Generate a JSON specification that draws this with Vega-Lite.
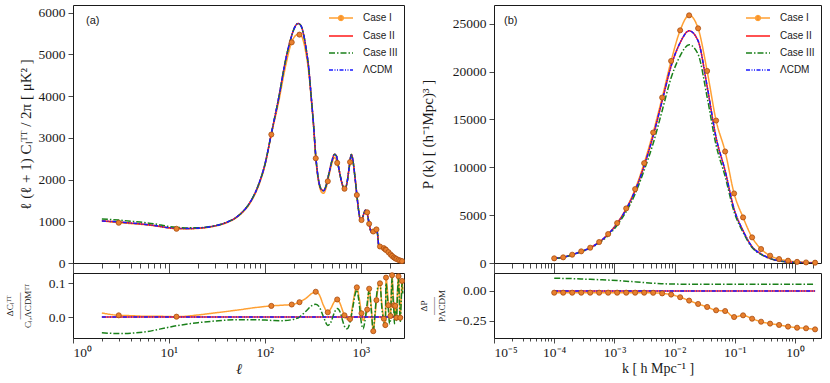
{
  "$schema": "https://vega.github.io/schema/vega-lite/v6.json",
  "autosize": {"type": "pad"},
  "padding": {"left": 4, "top": 4, "right": 0, "bottom": 0},
  "background": "white",
  "spacing": 12,
  "config": {
    "view": {"stroke": "#1a1a1a", "strokeWidth": 1},
    "axis": {"grid": false, "domain": false, "tickColor": "#1a1a1a", "tickWidth": 0.8, "labelFont": "Liberation Serif", "labelFontSize": 13.5, "labelColor": "#1a1a1a", "titleFont": "Liberation Serif", "titleFontWeight": "normal", "titleFontSize": 13, "titleColor": "#1a1a1a"},
    "line": {"strokeWidth": 1.5, "interpolate": "monotone"}
  },
  "datasets": {
    "tt": [
      {"l":2,"I":1010,"II":1010,"III":1055,"L":1010},
      {"l":3,"I":965,"II":982,"III":1028,"L":982},
      {"l":4,"I":945,"II":958,"III":1003,"L":958},
      {"l":5,"I":928,"II":938,"III":982,"L":938},
      {"l":7,"I":893,"II":900,"III":940,"L":900},
      {"l":10,"I":840,"II":845,"III":875,"L":845},
      {"l":12,"I":820,"II":830,"III":855,"L":830},
      {"l":15,"I":818,"II":825,"III":842,"L":825},
      {"l":20,"I":828,"II":835,"III":843,"L":835},
      {"l":25,"I":850,"II":858,"III":862,"L":858},
      {"l":30,"I":882,"II":890,"III":893,"L":890},
      {"l":40,"I":965,"II":975,"III":977,"L":975},
      {"l":50,"I":1078,"II":1090,"III":1090,"L":1090},
      {"l":60,"I":1235,"II":1250,"III":1250,"L":1250},
      {"l":70,"I":1430,"II":1450,"III":1450,"L":1450},
      {"l":80,"I":1675,"II":1700,"III":1700,"L":1700},
      {"l":90,"I":1970,"II":2000,"III":2000,"L":2000},
      {"l":100,"I":2320,"II":2350,"III":2350,"L":2350},
      {"l":117,"I":3080,"II":3100,"III":3100,"L":3100},
      {"l":140,"I":3880,"II":3970,"III":3970,"L":3970},
      {"l":164,"I":4700,"II":4840,"III":4840,"L":4840},
      {"l":189,"I":5270,"II":5420,"III":5420,"L":5420},
      {"l":205,"I":5430,"II":5650,"III":5650,"L":5650},
      {"l":222,"I":5480,"II":5740,"III":5740,"L":5740},
      {"l":238,"I":5460,"II":5690,"III":5690,"L":5690},
      {"l":254,"I":5300,"II":5480,"III":5480,"L":5480},
      {"l":270,"I":5000,"II":5130,"III":5130,"L":5130},
      {"l":287,"I":4580,"II":4680,"III":4680,"L":4680},
      {"l":305,"I":3930,"II":3980,"III":3980,"L":3980},
      {"l":324,"I":3220,"II":3250,"III":3250,"L":3250},
      {"l":338,"I":2580,"II":2640,"III":2640,"L":2640},
      {"l":352,"I":2170,"II":2220,"III":2220,"L":2220},
      {"l":370,"I":1860,"II":1900,"III":1900,"L":1900},
      {"l":390,"I":1700,"II":1760,"III":1760,"L":1760},
      {"l":410,"I":1670,"II":1735,"III":1735,"L":1735},
      {"l":435,"I":1790,"II":1850,"III":1850,"L":1850},
      {"l":465,"I":2080,"II":2130,"III":2130,"L":2130},
      {"l":500,"I":2380,"II":2440,"III":2440,"L":2440},
      {"l":535,"I":2530,"II":2610,"III":2610,"L":2610},
      {"l":560,"I":2460,"II":2560,"III":2560,"L":2560},
      {"l":585,"I":2310,"II":2330,"III":2330,"L":2330},
      {"l":620,"I":2030,"II":2030,"III":2030,"L":2030},
      {"l":650,"I":1850,"II":1850,"III":1850,"L":1850},
      {"l":683,"I":1775,"II":1775,"III":1775,"L":1775},
      {"l":720,"I":1920,"II":1920,"III":1920,"L":1920},
      {"l":760,"I":2300,"II":2300,"III":2300,"L":2300},
      {"l":800,"I":2600,"II":2600,"III":2600,"L":2600},
      {"l":830,"I":2460,"II":2460,"III":2460,"L":2460},
      {"l":860,"I":2180,"II":2180,"III":2180,"L":2180},
      {"l":890,"I":1870,"II":1870,"III":1870,"L":1870},
      {"l":920,"I":1550,"II":1550,"III":1550,"L":1550},
      {"l":960,"I":1200,"II":1200,"III":1200,"L":1200},
      {"l":1000,"I":1010,"II":1010,"III":1010,"L":1010},
      {"l":1040,"I":1060,"II":1060,"III":1060,"L":1060},
      {"l":1080,"I":1190,"II":1190,"III":1190,"L":1190},
      {"l":1120,"I":1265,"II":1265,"III":1265,"L":1265},
      {"l":1160,"I":1230,"II":1230,"III":1230,"L":1230},
      {"l":1200,"I":1060,"II":1060,"III":1060,"L":1060},
      {"l":1240,"I":880,"II":880,"III":880,"L":880},
      {"l":1265,"I":790,"II":790,"III":790,"L":790},
      {"l":1300,"I":740,"II":740,"III":740,"L":740},
      {"l":1340,"I":748,"II":748,"III":748,"L":748},
      {"l":1380,"I":790,"II":790,"III":790,"L":790},
      {"l":1425,"I":812,"II":812,"III":812,"L":812},
      {"l":1470,"I":800,"II":800,"III":800,"L":800},
      {"l":1500,"I":690,"II":690,"III":690,"L":690},
      {"l":1540,"I":440,"II":440,"III":440,"L":440},
      {"l":1600,"I":390,"II":390,"III":390,"L":390},
      {"l":1650,"I":372,"II":372,"III":372,"L":372},
      {"l":1700,"I":368,"II":368,"III":368,"L":368},
      {"l":1745,"I":355,"II":355,"III":355,"L":355},
      {"l":1800,"I":330,"II":330,"III":330,"L":330},
      {"l":1875,"I":295,"II":295,"III":295,"L":295},
      {"l":1950,"I":258,"II":258,"III":258,"L":258},
      {"l":2040,"I":210,"II":210,"III":210,"L":210},
      {"l":2120,"I":172,"II":172,"III":172,"L":172},
      {"l":2200,"I":140,"II":140,"III":140,"L":140},
      {"l":2300,"I":110,"II":110,"III":110,"L":110},
      {"l":2400,"I":87,"II":87,"III":87,"L":87},
      {"l":2485,"I":72,"II":72,"III":72,"L":72},
      {"l":2600,"I":56,"II":56,"III":56,"L":56},
      {"l":2750,"I":40,"II":40,"III":40,"L":40}
    ],
    "ttm": [
      {"l":3,"v":965,"r":0.005},
      {"l":12,"v":820,"r":0.001},
      {"l":117,"v":3080,"r":0.033},
      {"l":191,"v":5290,"r":0.037},
      {"l":230,"v":5475,"r":0.044},
      {"l":340,"v":2510,"r":0.075},
      {"l":454,"v":1960,"r":0.014},
      {"l":569,"v":2400,"r":0.052},
      {"l":678,"v":1780,"r":0.005},
      {"l":775,"v":2420,"r":-0.006},
      {"l":912,"v":1630,"r":0.088},
      {"l":1020,"v":1030,"r":0.011},
      {"l":1169,"v":1215,"r":0.022},
      {"l":1226,"v":940,"r":0.084},
      {"l":1353,"v":755,"r":-0.042},
      {"l":1460,"v":805,"r":0.05},
      {"l":1590,"v":395,"r":0.1},
      {"l":1743,"v":356,"r":-0.005},
      {"l":1807,"v":327,"r":-0.024},
      {"l":1838,"v":313,"r":0.117},
      {"l":1947,"v":260,"r":0.035},
      {"l":2045,"v":208,"r":0.003},
      {"l":2125,"v":170,"r":0.124},
      {"l":2218,"v":134,"r":0.035},
      {"l":2290,"v":113,"r":0.033},
      {"l":2360,"v":97,"r":-0.002},
      {"l":2480,"v":74,"r":0.121},
      {"l":2585,"v":58,"r":-0.002},
      {"l":2700,"v":45,"r":0.107}
    ],
    "ttr": [
      {"l":2,"I":0.012,"II":0,"III":-0.047,"L":0},
      {"l":3,"I":0.005,"II":0,"III":-0.049,"L":0},
      {"l":4,"I":0.004,"II":0,"III":-0.048,"L":0},
      {"l":6,"I":0.002,"II":0,"III":-0.043,"L":0},
      {"l":8,"I":0.002,"II":0,"III":-0.036,"L":0},
      {"l":12,"I":0.001,"II":0,"III":-0.026,"L":0},
      {"l":20,"I":0.006,"II":0,"III":-0.017,"L":0},
      {"l":30,"I":0.012,"II":0,"III":-0.012,"L":0},
      {"l":50,"I":0.020,"II":0,"III":-0.008,"L":0},
      {"l":80,"I":0.028,"II":0,"III":-0.008,"L":0},
      {"l":117,"I":0.033,"II":0,"III":-0.010,"L":0},
      {"l":150,"I":0.035,"II":0,"III":-0.011,"L":0},
      {"l":191,"I":0.037,"II":0,"III":-0.008,"L":0},
      {"l":230,"I":0.044,"II":0,"III":0.000,"L":0},
      {"l":270,"I":0.056,"II":0,"III":0.018,"L":0},
      {"l":310,"I":0.070,"II":0,"III":0.034,"L":0},
      {"l":340,"I":0.075,"II":0,"III":0.038,"L":0},
      {"l":370,"I":0.066,"II":0,"III":0.030,"L":0},
      {"l":410,"I":0.034,"II":0,"III":0.000,"L":0},
      {"l":454,"I":0.014,"II":0,"III":-0.025,"L":0},
      {"l":490,"I":0.026,"II":0,"III":-0.015,"L":0},
      {"l":530,"I":0.045,"II":0,"III":0.012,"L":0},
      {"l":569,"I":0.052,"II":0,"III":0.025,"L":0},
      {"l":610,"I":0.040,"II":0,"III":0.015,"L":0},
      {"l":650,"I":0.018,"II":0,"III":-0.012,"L":0},
      {"l":678,"I":0.005,"II":0,"III":-0.028,"L":0},
      {"l":720,"I":-0.006,"II":0,"III":-0.035,"L":0},
      {"l":775,"I":-0.006,"II":0,"III":-0.015,"L":0},
      {"l":830,"I":0.040,"II":0,"III":0.030,"L":0},
      {"l":880,"I":0.080,"II":0,"III":0.070,"L":0},
      {"l":912,"I":0.088,"II":0,"III":0.080,"L":0},
      {"l":960,"I":0.060,"II":0,"III":0.045,"L":0},
      {"l":1020,"I":0.011,"II":0,"III":-0.020,"L":0},
      {"l":1060,"I":-0.010,"II":0,"III":-0.035,"L":0},
      {"l":1110,"I":0.000,"II":0,"III":-0.010,"L":0},
      {"l":1169,"I":0.022,"II":0,"III":0.040,"L":0},
      {"l":1226,"I":0.084,"II":0,"III":0.080,"L":0},
      {"l":1290,"I":0.030,"II":0,"III":0.020,"L":0},
      {"l":1353,"I":-0.042,"II":0,"III":-0.042,"L":0},
      {"l":1400,"I":-0.010,"II":0,"III":0.000,"L":0},
      {"l":1460,"I":0.050,"II":0,"III":0.060,"L":0},
      {"l":1530,"I":0.090,"II":0,"III":0.095,"L":0},
      {"l":1590,"I":0.100,"II":0,"III":0.100,"L":0},
      {"l":1660,"I":0.040,"II":0,"III":0.030,"L":0},
      {"l":1743,"I":-0.005,"II":0,"III":-0.015,"L":0},
      {"l":1807,"I":-0.024,"II":0,"III":-0.030,"L":0},
      {"l":1838,"I":0.117,"II":0,"III":0.100,"L":0},
      {"l":1900,"I":0.080,"II":0,"III":0.060,"L":0},
      {"l":1947,"I":0.035,"II":0,"III":0.020,"L":0},
      {"l":2000,"I":0.000,"II":0,"III":-0.020,"L":0},
      {"l":2045,"I":0.003,"II":0,"III":-0.010,"L":0},
      {"l":2090,"I":0.080,"II":0,"III":0.070,"L":0},
      {"l":2125,"I":0.124,"II":0,"III":0.115,"L":0},
      {"l":2170,"I":0.080,"II":0,"III":0.060,"L":0},
      {"l":2218,"I":0.035,"II":0,"III":0.020,"L":0},
      {"l":2250,"I":0.000,"II":0,"III":-0.020,"L":0},
      {"l":2290,"I":0.033,"II":0,"III":0.020,"L":0},
      {"l":2360,"I":-0.002,"II":0,"III":-0.010,"L":0},
      {"l":2420,"I":0.080,"II":0,"III":0.070,"L":0},
      {"l":2480,"I":0.121,"II":0,"III":0.115,"L":0},
      {"l":2530,"I":0.060,"II":0,"III":0.050,"L":0},
      {"l":2585,"I":-0.002,"II":0,"III":-0.015,"L":0},
      {"l":2650,"I":0.060,"II":0,"III":0.050,"L":0},
      {"l":2700,"I":0.107,"II":0,"III":0.100,"L":0},
      {"l":2750,"I":0.080,"II":0,"III":0.070,"L":0}
    ],
    "pk": [
      {"k":0.0001,"I":487,"II":497,"III":482,"L":497},
      {"k":0.000141,"I":591,"II":600,"III":582,"L":600},
      {"k":0.000199,"I":869,"II":870,"III":844,"L":870},
      {"k":0.000281,"I":1217,"II":1200,"III":1164,"L":1200},
      {"k":0.000396,"I":1600,"II":1590,"III":1542,"L":1590},
      {"k":0.000558,"I":2190,"II":2170,"III":2105,"L":2170},
      {"k":0.000787,"I":3025,"II":3000,"III":2865,"L":3000},
      {"k":0.00111,"I":4172,"II":4130,"III":3944,"L":4130},
      {"k":0.00157,"I":5702,"II":5620,"III":5367,"L":5620},
      {"k":0.00221,"I":7719,"II":7560,"III":7220,"L":7560},
      {"k":0.00312,"I":10431,"II":10150,"III":9693,"L":10150},
      {"k":0.0044,"I":13630,"II":13280,"III":12480,"L":13280},
      {"k":0.00621,"I":17280,"II":16930,"III":15910,"L":16930},
      {"k":0.00875,"I":21106,"II":20580,"III":19350,"L":20580},
      {"k":0.01236,"I":24305,"II":23020,"III":21640,"L":23020},
      {"k":0.01742,"I":25870,"II":24250,"III":22800,"L":24250},
      {"k":0.02455,"I":24513,"II":23200,"III":21800,"L":23200},
      {"k":0.03467,"I":20063,"II":18450,"III":17340,"L":18450},
      {"k":0.04887,"I":14882,"II":13100,"III":12310,"L":13100},
      {"k":0.06902,"I":11648,"II":9630,"III":9050,"L":9630},
      {"k":0.09727,"I":7267,"II":5630,"III":5350,"L":5630},
      {"k":0.1371,"I":4763,"II":3370,"III":3200,"L":3370},
      {"k":0.1936,"I":2677,"II":1700,"III":1615,"L":1700},
      {"k":0.2729,"I":1460,"II":940,"III":893,"L":940},
      {"k":0.3855,"I":765,"II":480,"III":456,"L":480},
      {"k":0.5433,"I":417,"II":230,"III":219,"L":230},
      {"k":0.7656,"I":243,"II":120,"III":114,"L":120},
      {"k":1.081,"I":120,"II":60,"III":57,"L":60},
      {"k":1.524,"I":60,"II":30,"III":29,"L":30},
      {"k":2.153,"I":35,"II":15,"III":14,"L":15}
    ],
    "pkr": [
      {"k":0.0001,"I":-0.014,"II":0,"III":0.106,"L":0},
      {"k":0.000141,"I":-0.014,"II":0,"III":0.105,"L":0},
      {"k":0.000199,"I":-0.014,"II":0,"III":0.103,"L":0},
      {"k":0.000281,"I":-0.014,"II":0,"III":0.1,"L":0},
      {"k":0.000396,"I":-0.014,"II":0,"III":0.097,"L":0},
      {"k":0.000558,"I":-0.014,"II":0,"III":0.094,"L":0},
      {"k":0.000787,"I":-0.014,"II":0,"III":0.091,"L":0},
      {"k":0.00111,"I":-0.014,"II":0,"III":0.087,"L":0},
      {"k":0.00157,"I":-0.014,"II":0,"III":0.082,"L":0},
      {"k":0.00221,"I":-0.014,"II":0,"III":0.076,"L":0},
      {"k":0.00312,"I":-0.014,"II":0,"III":0.07,"L":0},
      {"k":0.0044,"I":-0.015,"II":0,"III":0.065,"L":0},
      {"k":0.00621,"I":-0.02,"II":0,"III":0.061,"L":0},
      {"k":0.00875,"I":-0.03,"II":0,"III":0.058,"L":0},
      {"k":0.01236,"I":-0.052,"II":0,"III":0.057,"L":0},
      {"k":0.01742,"I":-0.08,"II":0,"III":0.056,"L":0},
      {"k":0.02455,"I":-0.108,"II":0,"III":0.056,"L":0},
      {"k":0.03467,"I":-0.133,"II":0,"III":0.056,"L":0},
      {"k":0.04887,"I":-0.161,"II":0,"III":0.056,"L":0},
      {"k":0.06902,"I":-0.167,"II":0,"III":0.056,"L":0},
      {"k":0.09727,"I":-0.217,"II":0,"III":0.056,"L":0},
      {"k":0.1371,"I":-0.203,"II":0,"III":0.056,"L":0},
      {"k":0.1936,"I":-0.231,"II":0,"III":0.056,"L":0},
      {"k":0.2729,"I":-0.256,"II":0,"III":0.056,"L":0},
      {"k":0.3855,"I":-0.272,"II":0,"III":0.056,"L":0},
      {"k":0.5433,"I":-0.283,"II":0,"III":0.056,"L":0},
      {"k":0.7656,"I":-0.297,"II":0,"III":0.056,"L":0},
      {"k":1.081,"I":-0.306,"II":0,"III":0.056,"L":0},
      {"k":1.524,"I":-0.311,"II":0,"III":0.056,"L":0},
      {"k":2.153,"I":-0.32,"II":0,"III":0.056,"L":0}
    ]
  },
  "resolve": {"scale": {"color": "independent", "strokeDash": "independent"}, "legend": {"color": "independent", "strokeDash": "independent"}},
  "hconcat": [
    {
      "bounds": "flush",
      "spacing": 10,
      "resolve": {"scale": {"color": "independent", "strokeDash": "independent"}, "legend": {"color": "independent", "strokeDash": "independent"}},
      "vconcat": [
        {
          "width": 331, "height": 258,
          "title": {"text": "(a)", "anchor": "start", "frame": "group", "offset": -21, "dy": 9, "baseline": "alphabetic", "dx": 13, "font": "Liberation Sans", "fontSize": 11, "fontWeight": "normal", "color": "#1a1a1a"},
          "layer": [
            {
              "data": {"name": "tt"},
              "transform": [{"fold": ["I", "II", "III", "L"], "as": ["s", "v"]}],
              "mark": {"type": "line", "clip": true},
              "encoding": {
                "x": {"field": "l", "type": "quantitative", "scale": {"type": "log", "domain": [1, 2830], "nice": false},
                  "axis": {"title": null, "labels": false, "values": [1,2,3,4,5,6,7,8,9,10,20,30,40,50,60,70,80,90,100,200,300,400,500,600,700,800,900,1000,2000],
                    "tickSize": {"condition": {"test": "datum.value==1||datum.value==10||datum.value==100||datum.value==1000", "value": 10}, "value": 5}}},
                "y": {"field": "v", "type": "quantitative", "scale": {"domain": [0, 6185], "nice": false, "zero": false},
                  "axis": {"values": [0,1000,2000,3000,4000,5000,6000], "format": "d", "tickSize": 5, "labelPadding": 3, "titlePadding": 5, "titleFontSize": 15, "title": "ℓ (ℓ + 1) Cₗᵀᵀ / 2π   [ μK² ]"}},
                "color": {"field": "s", "type": "nominal", "scale": {"domain": ["I", "II", "III", "L"], "range": ["#ffa033", "#ff1a1a", "#1a801a", "#1a1aff"]},
                  "legend": {"title": null, "orient": "top-right", "offset": 6, "padding": 0, "labelFont": "Liberation Sans", "labelFontSize": 10, "labelColor": "#1a1a1a", "symbolType": "M-2,0H2", "symbolSize": 144, "symbolStrokeWidth": 1.5, "labelOffset": 15, "rowPadding": 5,
                    "labelExpr": "datum.label=='I'?'Case I':datum.label=='II'?'Case II':datum.label=='III'?'Case III':'ΛCDM'",
                    "encoding": {"symbols": {"shape": {"value": {"expr": "datum.value==='I' ? 'M-2,0H2M0.4,0A0.4,0.4,0,1,1,-0.4,0A0.4,0.4,0,1,1,0.4,0' : 'M-2,0H2'"}}, "fill": {"value": {"expr": "datum.value==='I' ? '#e8802e' : 'transparent'"}}}}}},
                "strokeDash": {"field": "s", "type": "nominal", "scale": {"domain": ["I", "II", "III", "L"], "range": [[1, 0], [1, 0], [6, 2, 1.5, 2], [4, 1.5, 1, 1.5, 1, 1.5]]},
                  "legend": {"title": null, "orient": "top-right", "offset": 6, "padding": 0, "labelFont": "Liberation Sans", "labelFontSize": 10, "labelColor": "#1a1a1a", "symbolType": "M-2,0H2", "symbolSize": 144, "symbolStrokeWidth": 1.5, "labelOffset": 15, "rowPadding": 5,
                    "labelExpr": "datum.label=='I'?'Case I':datum.label=='II'?'Case II':datum.label=='III'?'Case III':'ΛCDM'",
                    "encoding": {"symbols": {"shape": {"value": {"expr": "datum.value==='I' ? 'M-2,0H2M0.4,0A0.4,0.4,0,1,1,-0.4,0A0.4,0.4,0,1,1,0.4,0' : 'M-2,0H2'"}}, "fill": {"value": {"expr": "datum.value==='I' ? '#e8802e' : 'transparent'"}}}}}}
              }
            },
            {
              "data": {"name": "ttm"},
              "mark": {"type": "point", "filled": true, "fill": "#e8802e", "stroke": "#a84d10", "strokeWidth": 0.8, "size": 26, "opacity": 1},
              "encoding": {"x": {"field": "l", "type": "quantitative"}, "y": {"field": "v", "type": "quantitative"}}
            }
          ]
        },
        {
          "width": 331, "height": 65,
          "layer": [
            {
              "data": {"name": "ttr"},
              "transform": [{"fold": ["I", "II", "III", "L"], "as": ["s", "v"]}],
              "mark": {"type": "line", "clip": true},
              "encoding": {
                "x": {"field": "l", "type": "quantitative", "scale": {"type": "log", "domain": [1, 2830], "nice": false},
                  "axis": {"title": "ℓ", "titleFontStyle": "italic", "titleFontSize": 15, "titlePadding": 3, "labelPadding": 2, "values": [1,2,3,4,5,6,7,8,9,10,20,30,40,50,60,70,80,90,100,200,300,400,500,600,700,800,900,1000,2000],
                    "labelExpr": "datum.value==1?'10⁰':datum.value==10?'10¹':datum.value==100?'10²':datum.value==1000?'10³':''",
                    "tickSize": {"condition": {"test": "datum.value==1||datum.value==10||datum.value==100||datum.value==1000", "value": 5}, "value": 3}}},
                "y": {"field": "v", "type": "quantitative", "scale": {"domain": [-0.0623, 0.1306], "nice": false, "zero": false},
                  "axis": {"values": [0, 0.1], "format": ".1f", "tickSize": 5, "labelPadding": 3, "titlePadding": 16, "titleFontSize": 9, "titleLineHeight": 9, "title": ["ΔCₗᵀᵀ", "———", "Cₗ,ΛCDMᵀᵀ"]}},
                "color": {"field": "s", "type": "nominal", "scale": {"domain": ["I", "II", "III", "L"], "range": ["#ffa033", "#ff1a1a", "#1a801a", "#1a1aff"]}, "legend": null},
                "strokeDash": {"field": "s", "type": "nominal", "scale": {"domain": ["I", "II", "III", "L"], "range": [[1, 0], [1, 0], [6, 2, 1.5, 2], [4, 1.5, 1, 1.5, 1, 1.5]]}, "legend": null}
              }
            },
            {
              "data": {"name": "ttm"},
              "mark": {"type": "point", "filled": true, "fill": "#e8802e", "stroke": "#a84d10", "strokeWidth": 0.8, "size": 26, "opacity": 1},
              "encoding": {"x": {"field": "l", "type": "quantitative"}, "y": {"field": "r", "type": "quantitative"}}
            }
          ]
        }
      ]
    },
    {
      "bounds": "flush",
      "spacing": 10,
      "resolve": {"scale": {"color": "independent", "strokeDash": "independent"}, "legend": {"color": "independent", "strokeDash": "independent"}},
      "vconcat": [
        {
          "width": 327, "height": 258,
          "title": {"text": "(b)", "anchor": "start", "frame": "group", "offset": -21, "dy": 9, "baseline": "alphabetic", "dx": 10, "font": "Liberation Sans", "fontSize": 11, "fontWeight": "normal", "color": "#1a1a1a"},
          "layer": [
            {
              "data": {"name": "pk"},
              "transform": [{"fold": ["I", "II", "III", "L"], "as": ["s", "v"]}],
              "mark": {"type": "line", "clip": true},
              "encoding": {
                "x": {"field": "k", "type": "quantitative", "scale": {"type": "log", "domain": [0.00001, 2.7], "nice": false},
                  "axis": {"title": null, "labels": false, "values": [0.00001,0.00002,0.00003,0.00004,0.00005,0.00006,0.00007,0.00008,0.00009,0.0001,0.0002,0.0003,0.0004,0.0005,0.0006,0.0007,0.0008,0.0009,0.001,0.002,0.003,0.004,0.005,0.006,0.007,0.008,0.009,0.01,0.02,0.03,0.04,0.05,0.06,0.07,0.08,0.09,0.1,0.2,0.3,0.4,0.5,0.6,0.7,0.8,0.9,1,2],
                    "tickSize": {"condition": {"test": "datum.value==0.00001||datum.value==0.0001||datum.value==0.001||datum.value==0.01||datum.value==0.1||datum.value==1", "value": 10}, "value": 5}}},
                "y": {"field": "v", "type": "quantitative", "scale": {"domain": [0, 26950], "nice": false, "zero": false},
                  "axis": {"values": [0,5000,10000,15000,20000,25000], "format": "d", "tickSize": 5, "labelPadding": 3, "titlePadding": 17, "titleFontSize": 15, "title": "P (k)   [ (h⁻¹Mpc)³ ]"}},
                "color": {"field": "s", "type": "nominal", "scale": {"domain": ["I", "II", "III", "L"], "range": ["#ffa033", "#ff1a1a", "#1a801a", "#1a1aff"]},
                  "legend": {"title": null, "orient": "top-right", "offset": 6, "padding": 0, "labelFont": "Liberation Sans", "labelFontSize": 10, "labelColor": "#1a1a1a", "symbolType": "M-2,0H2", "symbolSize": 144, "symbolStrokeWidth": 1.5, "labelOffset": 15, "rowPadding": 5,
                    "labelExpr": "datum.label=='I'?'Case I':datum.label=='II'?'Case II':datum.label=='III'?'Case III':'ΛCDM'",
                    "encoding": {"symbols": {"shape": {"value": {"expr": "datum.value==='I' ? 'M-2,0H2M0.4,0A0.4,0.4,0,1,1,-0.4,0A0.4,0.4,0,1,1,0.4,0' : 'M-2,0H2'"}}, "fill": {"value": {"expr": "datum.value==='I' ? '#e8802e' : 'transparent'"}}}}}},
                "strokeDash": {"field": "s", "type": "nominal", "scale": {"domain": ["I", "II", "III", "L"], "range": [[1, 0], [1, 0], [6, 2, 1.5, 2], [4, 1.5, 1, 1.5, 1, 1.5]]},
                  "legend": {"title": null, "orient": "top-right", "offset": 6, "padding": 0, "labelFont": "Liberation Sans", "labelFontSize": 10, "labelColor": "#1a1a1a", "symbolType": "M-2,0H2", "symbolSize": 144, "symbolStrokeWidth": 1.5, "labelOffset": 15, "rowPadding": 5,
                    "labelExpr": "datum.label=='I'?'Case I':datum.label=='II'?'Case II':datum.label=='III'?'Case III':'ΛCDM'",
                    "encoding": {"symbols": {"shape": {"value": {"expr": "datum.value==='I' ? 'M-2,0H2M0.4,0A0.4,0.4,0,1,1,-0.4,0A0.4,0.4,0,1,1,0.4,0' : 'M-2,0H2'"}}, "fill": {"value": {"expr": "datum.value==='I' ? '#e8802e' : 'transparent'"}}}}}}
              }
            },
            {
              "data": {"name": "pk"},
              "transform": [{"fold": ["I"], "as": ["s", "v"]}],
              "mark": {"type": "point", "filled": true, "fill": "#e8802e", "stroke": "#a84d10", "strokeWidth": 0.8, "size": 26, "opacity": 1},
              "encoding": {"x": {"field": "k", "type": "quantitative"}, "y": {"field": "v", "type": "quantitative"}}
            }
          ]
        },
        {
          "width": 327, "height": 65,
          "layer": [
            {
              "data": {"name": "pkr"},
              "transform": [{"fold": ["I", "II", "III", "L"], "as": ["s", "v"]}],
              "mark": {"type": "line", "clip": true},
              "encoding": {
                "x": {"field": "k", "type": "quantitative", "scale": {"type": "log", "domain": [0.00001, 2.7], "nice": false},
                  "axis": {"title": "k  [ h Mpc⁻¹ ]", "titleFontSize": 14, "titlePadding": 3, "labelPadding": 2, "values": [0.00001,0.00002,0.00003,0.00004,0.00005,0.00006,0.00007,0.00008,0.00009,0.0001,0.0002,0.0003,0.0004,0.0005,0.0006,0.0007,0.0008,0.0009,0.001,0.002,0.003,0.004,0.005,0.006,0.007,0.008,0.009,0.01,0.02,0.03,0.04,0.05,0.06,0.07,0.08,0.09,0.1,0.2,0.3,0.4,0.5,0.6,0.7,0.8,0.9,1,2],
                    "labelExpr": "datum.value==0.00001?'10⁻⁵':datum.value==0.0001?'10⁻⁴':datum.value==0.001?'10⁻³':datum.value==0.01?'10⁻²':datum.value==0.1?'10⁻¹':datum.value==1?'10⁰':''",
                    "tickSize": {"condition": {"test": "datum.value==0.00001||datum.value==0.0001||datum.value==0.001||datum.value==0.01||datum.value==0.1||datum.value==1", "value": 5}, "value": 3}}},
                "y": {"field": "v", "type": "quantitative", "scale": {"domain": [-0.392, 0.15], "nice": false, "zero": false},
                  "axis": {"values": [-0.25, 0], "format": ".2f", "tickSize": 5, "labelPadding": 3, "titlePadding": 8, "titleFontSize": 9, "titleLineHeight": 9, "title": ["ΔP", "——", "PΛCDM"]}},
                "color": {"field": "s", "type": "nominal", "scale": {"domain": ["I", "II", "III", "L"], "range": ["#ffa033", "#ff1a1a", "#1a801a", "#1a1aff"]}, "legend": null},
                "strokeDash": {"field": "s", "type": "nominal", "scale": {"domain": ["I", "II", "III", "L"], "range": [[1, 0], [1, 0], [6, 2, 1.5, 2], [4, 1.5, 1, 1.5, 1, 1.5]]}, "legend": null}
              }
            },
            {
              "data": {"name": "pkr"},
              "transform": [{"fold": ["I"], "as": ["s", "v"]}],
              "mark": {"type": "point", "filled": true, "fill": "#e8802e", "stroke": "#a84d10", "strokeWidth": 0.8, "size": 26, "opacity": 1},
              "encoding": {"x": {"field": "k", "type": "quantitative"}, "y": {"field": "v", "type": "quantitative"}}
            }
          ]
        }
      ]
    }
  ]
}
